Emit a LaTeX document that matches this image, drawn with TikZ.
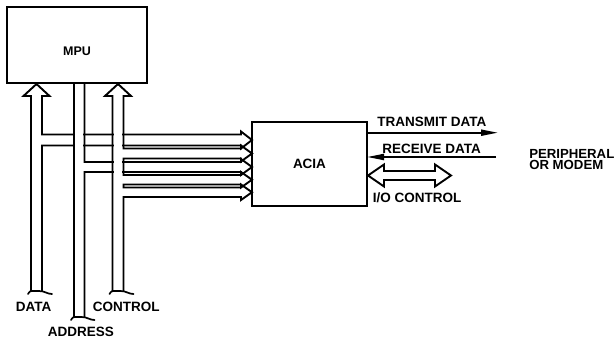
\documentclass[tikz,border=0pt]{standalone}
\usepackage{fontspec}
\setmainfont{Liberation Sans}
\usetikzlibrary{arrows.meta}
\begin{document}
\begin{tikzpicture}[x=1pt,y=-1pt,line width=1.9pt,line join=miter,
  lbl/.style={font=\bfseries\fontsize{13.5}{13.5}\selectfont,inner sep=0pt,anchor=base west},
  boxstyle/.style={draw,line width=2.1pt,inner sep=0pt,outer sep=0pt},
  sigline/.style={line width=2pt},
  tail/.style={line width=1.7pt,line cap=round}]
\useasboundingbox (0,0) rectangle (614,339);
% boxes
\node[boxstyle,minimum width=140pt,minimum height=76pt] (mpu) at (77,45) {};
\node[font=\bfseries\fontsize{12.5}{12.5}\selectfont,inner sep=0pt] (mputxt) at (77,51) {MPU};
\node[boxstyle,minimum width=115pt,minimum height=84pt,font=\bfseries\fontsize{13.5}{13.5}\selectfont] (acia) at (309.5,164) {ACIA};
% data bus
\draw (31,292) -- (31,96) -- (23.5,96) -- (36.5,84) -- (49.5,96) -- (42,96) -- (42,134.5)
  -- (241,134.5) -- (241,131.5) -- (252,140) -- (241,148.5) -- (241,145.5) -- (42,145.5) -- (42,292);
% address bus
\fill[white] (75.1,125) rectangle (83.4,180);
\draw (74,318) -- (74,83);
\draw (84.5,83) -- (84.5,162) -- (241,162) -- (241,159) -- (252,167) -- (241,175) -- (241,172)
  -- (84.5,172) -- (84.5,318);
% control bus
\fill[white] (113.6,125) rectangle (122.4,200);
\draw (112.5,292) -- (112.5,96) -- (105,96) -- (118,84) -- (131,96) -- (123.5,96)
  -- (123.5,148.5) -- (241,148.5) -- (241,145.5) -- (252,153.5) -- (241,161.5) -- (241,158.5) -- (123.5,158.5)
  -- (123.5,175) -- (241,175) -- (241,172) -- (252,179.75) -- (241,187.5) -- (241,184.5) -- (123.5,184.5)
  -- (123.5,187.5) -- (241,187.5) -- (241,184.5) -- (252,192.25) -- (241,200) -- (241,197) -- (123.5,197)
  -- (123.5,292);
% bus tails
\coordinate (dtail) at (31,292);
\coordinate (atail) at (74,318);
\coordinate (ctail) at (112.5,292);
\foreach \c/\w in {dtail/11, atail/10.5, ctail/11}{
  \draw[tail] ([xshift=-3pt,yshift=-2pt]\c) .. controls ([xshift=-1pt,yshift=1pt]\c) .. ([xshift=3pt,yshift=1pt]\c)
    -- ([xshift=\w pt-3pt,yshift=1pt]\c) .. controls ([xshift=\w pt+3pt,yshift=1pt]\c) and ([xshift=\w pt+5pt,yshift=-2pt]\c) .. ([xshift=\w pt+10pt,yshift=-2pt]\c);
}
% right-hand signals
\coordinate (txend) at (498,132.7);
\coordinate (rxstart) at (496,157);
\draw[sigline,-{Triangle[length=17pt,width=6pt]}] (acia.east |- txend) -- (txend);
\draw[sigline,-{Triangle[length=17pt,width=6pt]}] (rxstart) -- (acia.east |- rxstart);
\draw (368,175.5) -- (384,164.5) -- (384,171) -- (435,171) -- (435,164.5) -- (451,175.5)
  -- (435,186.5) -- (435,180) -- (384,180) -- (384,186.5) -- cycle;
% labels
\node[lbl] (ldata) at (15,312) {DATA};
\node[lbl] (lctrl) at (92,312) {CONTROL};
\node[lbl] (laddr) at (47,337) {ADDRESS};
\node[lbl] (ltx) at (376.5,126.7) {TRANSMIT DATA};
\node[lbl] (lrx) at (381.5,153.3) {RECEIVE DATA};
\node[lbl] (lio) at (372,203) {I/O CONTROL};
\node[lbl,font=\bfseries\fontsize{13.2}{13.2}\selectfont] (lper) at (528.3,158.3) {PERIPHERAL};
\node[lbl,font=\bfseries\fontsize{13.2}{13.2}\selectfont] (lmod) at (528.3,170) {OR MODEM};
\end{tikzpicture}
\end{document}
